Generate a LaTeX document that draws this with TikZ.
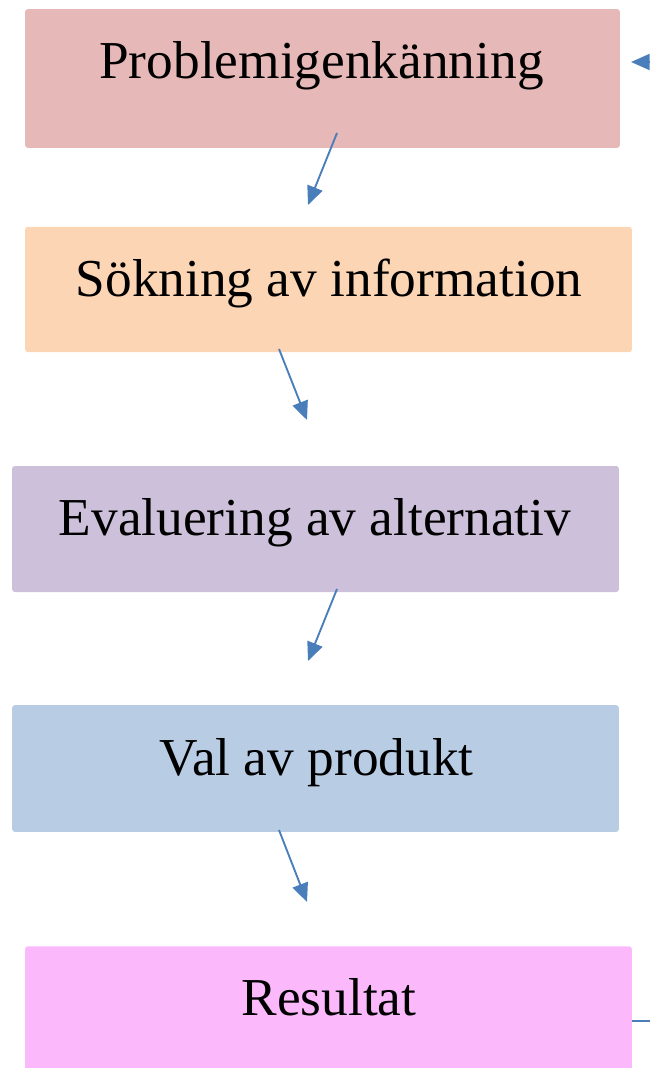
\documentclass[tikz,border=0pt]{standalone}
\usepackage{fontspec}
\setmainfont{Liberation Serif}
\usetikzlibrary{arrows.meta,calc}
\definecolor{rosa}{HTML}{E6B8B7}
\definecolor{persika}{HTML}{FCD5B4}
\definecolor{lila}{HTML}{CCC0DA}
\definecolor{ljusbla}{HTML}{B8CCE4}
\definecolor{magenta}{HTML}{FBB9FB}
\definecolor{pil}{HTML}{4A7EBB}
\begin{document}
\begin{tikzpicture}[x=0.75pt, y=-0.75pt, >={Triangle[length=14pt,width=12pt]}]
		\tikzset{steg/.style={rectangle, rounded corners=2pt, inner sep=0pt, draw=none}}
		\tikzset{etikett/.style={anchor=base, inner sep=0pt, font=\fontsize{40}{48}\selectfont}}
		\tikzset{pilen/.style={->, draw=pil, line width=1.4pt}}
		\useasboundingbox (0,0) rectangle (650,1068);
		% rutorna
		\node[steg, fill=rosa, minimum width=446pt, minimum height=104pt] (p1) at (322.5,78.5) {};
		\node[steg, fill=persika, minimum width=455pt, minimum height=94pt] (p2) at (328.5,289.5) {};
		\node[steg, fill=lila, minimum width=455pt, minimum height=94.5pt] (p3) at (315.5,529) {};
		\node[steg, fill=ljusbla, minimum width=455pt, minimum height=95pt] (p4) at (315.5,768.5) {};
		\node[steg, fill=magenta, minimum width=455pt, minimum height=100pt] (p5) at (328.5,1013) {};
		% texterna
		\node[etikett] (t1) at (321.5,78) {Problemigenkänning};
		\node[etikett] (t2) at (329,296) {Sökning av information};
		\node[etikett] (t3) at (315,535) {Evaluering av alternativ};
		\node[etikett] (t4) at (316.5,775) {Val av produkt};
		\node[etikett] (t5) at (329,1015) {Resultat};
		% pilarna
		\coordinate (a1) at (337,133);
		\coordinate (b1) at (308,205);
		\coordinate (a2) at (279,349);
		\coordinate (b2) at (307,420);
		\coordinate (a3) at (337,589);
		\coordinate (b3) at (308,661);
		\coordinate (a4) at (279,830);
		\coordinate (b4) at (307,902);
		\draw[pilen] (a1) -- (b1);
		\draw[pilen] (a2) -- (b2);
		\draw[pilen] (a3) -- (b3);
		\draw[pilen] (a4) -- (b4);
		% tillbaka till början
		\coordinate (r1) at (652,62);
		\coordinate (r2) at (631,62);
		\coordinate (r5) at (652,1021);
		\draw[pilen] (r1) -- (r2);
		\draw[draw=pil, line width=1.4pt] (p5.east |- r5) -- (r5);
	\end{tikzpicture}
\end{document}
